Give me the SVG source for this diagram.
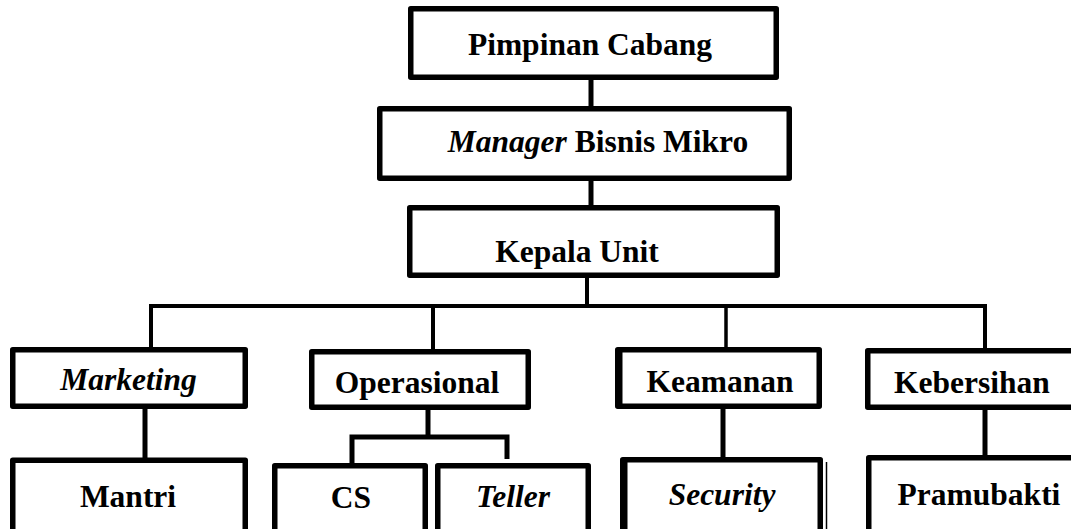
<svg xmlns="http://www.w3.org/2000/svg" width="1071" height="529" viewBox="0 0 1071 529">
<style>
.box{fill:#fff;stroke:#000;stroke-width:5.5;stroke-linejoin:round}
.ln{fill:none;stroke:#000;stroke-width:4;stroke-linecap:butt;stroke-linejoin:miter}
.tk{stroke-width:5}
.t{font-family:"Liberation Serif","Times New Roman",serif;font-size:31.5px;font-weight:bold;fill:#000;text-anchor:middle}
.i{font-style:italic}
</style>
<rect width="1071" height="529" fill="#fff"/>
<g id="connectors">
<path class="ln tk" d="M591 80V108"/>
<path class="ln tk" d="M591 181V206"/>
<path class="ln" d="M587 278V306"/>
<path class="ln" d="M151 348V306H985V348"/>
<path class="ln" d="M433 306V350"/>
<path class="ln" d="M726 306V348" style="stroke-width:3.5"/>
<path class="ln tk" d="M145 409V458"/>
<path class="ln tk" d="M428 410V437"/>
<path class="ln tk" d="M352 463V437H507V459"/>
<path class="ln tk" d="M723 409V458"/>
<path class="ln tk" d="M985 410V456"/>
</g>
<g id="pimpinan-cabang">
<rect class="box" x="410.75" y="8.75" width="365.5" height="68.5"/>
<text class="t" x="590" y="55">Pimpinan Cabang</text>
</g>
<g id="manager-bisnis-mikro">
<rect class="box" x="379.75" y="108.75" width="409.5" height="69.5"/>
<text class="t" x="598" y="152"><tspan class="i">Manager</tspan> Bisnis Mikro</text>
</g>
<g id="kepala-unit">
<rect class="box" x="409.75" y="207.75" width="367.5" height="67.5"/>
<text class="t" x="577" y="262">Kepala Unit</text>
</g>
<g id="marketing">
<rect class="box" x="12.75" y="349.75" width="232.5" height="56.5"/>
<text class="t i" x="128.5" y="390">Marketing</text>
</g>
<g id="operasional">
<rect class="box" x="311.75" y="351.75" width="216.5" height="55.5"/>
<text class="t" x="417" y="393">Operasional</text>
</g>
<g id="keamanan">
<rect class="box" x="617.75" y="349.75" width="201.5" height="56.5"/>
<path d="M620 349V407" stroke="#000" stroke-width="5"/>
<text class="t" x="720" y="392">Keamanan</text>
</g>
<g id="kebersihan">
<rect class="box" x="867.75" y="350.75" width="220" height="56.5"/>
<text class="t" x="972" y="393">Kebersihan</text>
</g>
<g id="mantri">
<rect class="box" x="12.75" y="460.25" width="232.5" height="90"/>
<text class="t" x="128" y="507">Mantri</text>
</g>
<g id="cs">
<rect class="box" x="274.75" y="465.75" width="150.5" height="90"/>
<text class="t" x="351" y="508">CS</text>
</g>
<g id="teller">
<rect class="box" x="437.75" y="465.75" width="150.5" height="90"/>
<text class="t i" x="513" y="507">Teller</text>
</g>
<g id="security">
<rect class="box" x="622.75" y="459.75" width="197.5" height="90"/>
<path d="M625 459V529" stroke="#000" stroke-width="5"/>
<path d="M826.5 462V529" stroke="#000" stroke-width="1.5"/>
<text class="t i" x="722" y="505">Security</text>
</g>
<g id="pramubakti">
<rect class="box" x="868.75" y="457.75" width="220" height="90"/>
<text class="t" x="979" y="505">Pramubakti</text>
</g>
</svg>
